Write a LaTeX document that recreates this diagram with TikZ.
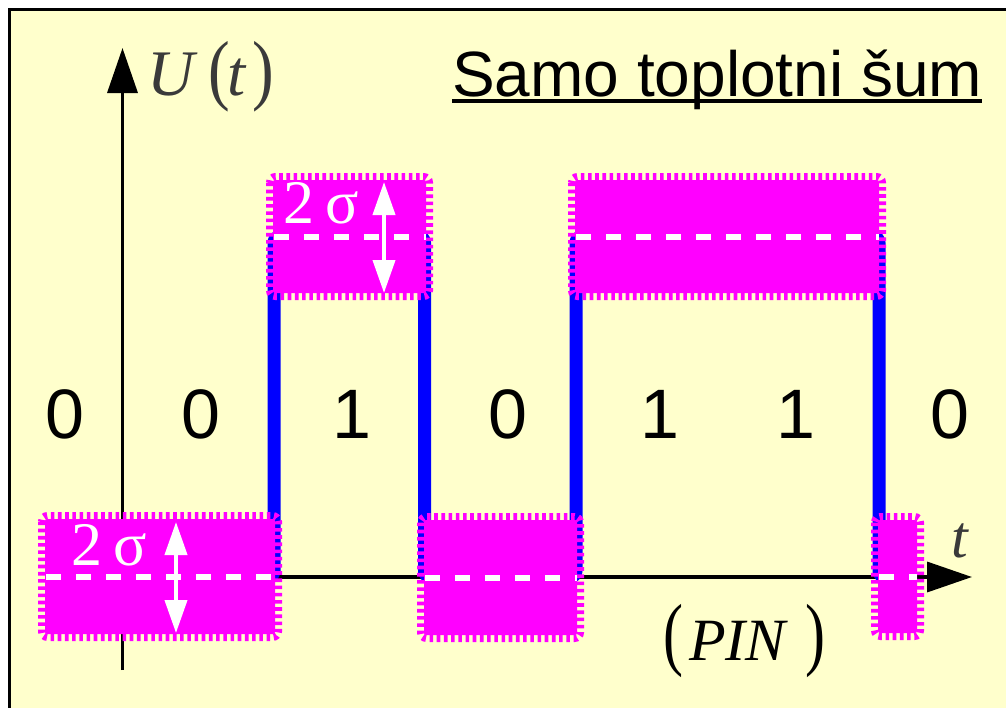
\documentclass[tikz,border=0pt]{standalone}
\usepackage{fontspec}
\usepackage{graphicx}
\setmainfont{Liberation Sans}
\newfontfamily\serif{Liberation Serif}
\usetikzlibrary{arrows.meta}
\definecolor{bg}{HTML}{FFFFCC}
\definecolor{mag}{HTML}{FF00FF}
\definecolor{sig}{HTML}{0000FF}
\definecolor{lab}{HTML}{3A3A3A}
\newcommand\noisebox[4]{%
  \fill[mag, rounded corners=2pt] ({#1+7},{#2+7}) rectangle ({#3-7},{#4-7});
  \draw[noiseedge] ({#1+3.5},{#2+3.5}) rectangle ({#3-3.5},{#4-3.5});
  \draw[meanline] ({#1+8},{(#2+#4)/2}) -- ({#3-7},{(#2+#4)/2});
}
\newcommand\tallparen[2]{\scalebox{1}[#1]{#2}}
\begin{document}
\begin{tikzpicture}[x=1pt,y=-1pt,
  axis/.style={line width=3.5pt, black, -{Triangle[length=45pt,width=30pt]}},
  signal/.style={line width=13pt, sig, rounded corners=6pt, line join=round},
  noiseedge/.style={mag, line width=7pt, dash pattern=on 3.6pt off 3.6pt, rounded corners=6pt},
  meanline/.style={white, line width=6pt, dash pattern=on 15pt off 15pt},
  sigarrow/.style={white, line width=4pt, {Triangle[length=33pt,width=22pt]}-{Triangle[length=33pt,width=22pt]}},
  bit/.style={anchor=base, inner sep=0pt, font=\fontsize{70}{70}\selectfont},
  sigma/.style={anchor=base west, inner sep=0pt, text=white, font=\serif\fontsize{62}{62}\selectfont},
]
\useasboundingbox (0,0) rectangle (1006,707);
\begin{scope}
\clip (0,0) rectangle (1006,707);
\draw[fill=bg, line width=3.5pt] (9.5,9.5) rectangle (1020,720);
\end{scope}
% axes
\coordinate (ybot) at (122.5,670);
\coordinate (ytip) at (122.5,48);
\coordinate (O) at (122.5,577);
\coordinate (xtip) at (972,577);
\draw[axis] (ybot) -- (ytip);
\draw[axis] (O) -- (xtip);
% signal
\coordinate (s0) at (46,577);
\coordinate (s1) at (274,577);
\coordinate (s2) at (274,236.5);
\coordinate (s3) at (424.5,236.5);
\coordinate (s4) at (424.5,577);
\coordinate (s5) at (576,577);
\coordinate (s6) at (576,236.5);
\coordinate (s7) at (879,236.5);
\coordinate (s8) at (879,577);
\coordinate (s9) at (916,577);
\draw[signal] (s0) -- (s1) -- (s2) -- (s3) -- (s4) -- (s5) -- (s6) -- (s7) -- (s8) -- (s9);
% noise bands
\noisebox{38}{512}{282}{641}
\noisebox{266}{173}{433}{300}
\noisebox{417}{513}{584}{642}
\noisebox{568}{173}{886}{300}
\noisebox{871}{513}{924}{640}
% 2 sigma markers
\coordinate (a1t) at (176,522);
\coordinate (a1b) at (176,633);
\coordinate (a2t) at (384,182);
\coordinate (a2b) at (384,293);
\draw[sigarrow] (a1t) -- (a1b);
\draw[sigarrow] (a2t) -- (a2b);
\node[sigma] (sg1) at (71,565) {2\hspace{11pt}σ};
\node[sigma] (sg2) at (283,223) {2\hspace{11pt}σ};
% bits
\node[bit] (b1) at (65,438) {0};
\node[bit] (b2) at (201,438) {0};
\node[bit] (b3) at (352,438) {1};
\node[bit] (b4) at (508,438) {0};
\node[bit] (b5) at (660,438) {1};
\node[bit] (b6) at (796,438) {1};
\node[bit] (b7) at (950,438) {0};
% title
\node[anchor=base west, inner sep=0pt, font=\fontsize{64}{64}\selectfont] (title) at (452,96) {Samo toplotni šum};
\draw[line width=4pt] ([yshift=-5pt]title.base west) -- ([yshift=-5pt]title.base east);
% axis labels
\node[anchor=base west, inner sep=0pt, text=lab, font=\serif\fontsize{65}{65}\selectfont] (ylab) at (147,95)
  {\textit{U}\hspace{11pt}\tallparen{1.2}{(}\hspace{-2.5pt}\textit{t}\hspace{5pt}\tallparen{1.2}{)}};
\node[anchor=base west, inner sep=0pt, text=lab, font=\serif\fontsize{60}{60}\selectfont] (xlab) at (951,557) {\textit{t}};
\node[anchor=base west, inner sep=0pt, font=\serif\fontsize{60}{60}\selectfont] (pin) at (663,660)
  {\tallparen{1.35}{(}\hspace{6pt}\textit{PIN}\hspace{17pt}\tallparen{1.35}{)}};
\end{tikzpicture}
\end{document}
